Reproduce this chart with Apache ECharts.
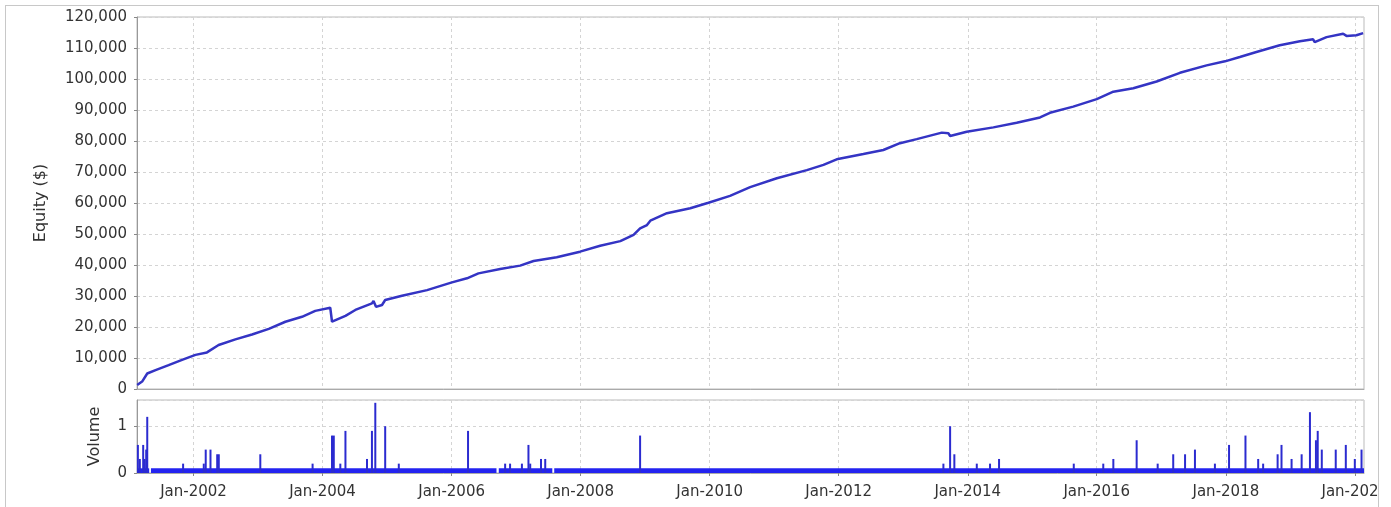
<!DOCTYPE html>
<html>
<head>
<meta charset="utf-8">
<title>Equity and Volume</title>
<script src="https://cdn.jsdelivr.net/npm/echarts@6/dist/echarts.min.js"></script>
<style>
  html, body { margin: 0; padding: 0; background: #fff; }
  body { width: 1391px; height: 507px; position: relative; overflow: hidden; }
  #chart { position: absolute; left: 0; top: 0; width: 1378px; height: 507px; }
  #frame { position: absolute; left: 5px; top: 5px; width: 1372px; height: 540px;
           border: 1px solid #c8c8c8; pointer-events: none; }
</style>
</head>
<body>
<div id="chart"></div>
<div id="frame"></div>
<script>
// equity curve
const equityDates = [
  '2001-02-16', '2001-03-16', '2001-04-14', '2001-05-31', '2001-08-13', '2001-10-28',
  '2002-01-12', '2002-03-18', '2002-05-23', '2002-08-26', '2002-11-28',
  '2003-03-03', '2003-06-05', '2003-09-07', '2003-11-21',
  '2004-02-14', '2004-02-24', '2004-05-10', '2004-07-05', '2004-10-07', '2004-10-16',
  '2004-10-30', '2004-12-03', '2004-12-21',
  '2005-03-26', '2005-08-15',
  '2006-01-03', '2006-03-29', '2006-06-02', '2006-10-03',
  '2007-01-24', '2007-04-10', '2007-08-19', '2007-12-29',
  '2008-04-21', '2008-08-13', '2008-10-27', '2008-12-03',
  '2009-01-11', '2009-01-30', '2009-05-04', '2009-09-13', '2009-12-25',
  '2010-04-26', '2010-08-18',
  '2011-01-16', '2011-07-05', '2011-10-07', '2011-12-21',
  '2012-05-20', '2012-09-10', '2012-12-13',
  '2013-03-18', '2013-08-07', '2013-09-13', '2013-09-23', '2013-12-26',
  '2014-05-26', '2014-10-05',
  '2015-02-14', '2015-04-11', '2015-08-21',
  '2016-01-01', '2016-04-04', '2016-07-26', '2016-12-05',
  '2017-04-16', '2017-09-14', '2017-12-27',
  '2018-03-21', '2018-06-23', '2018-11-02',
  '2019-02-24', '2019-05-10', '2019-05-19', '2019-07-25', '2019-10-27', '2019-11-15',
  '2020-01-10', '2020-02-17'
]
const equityValues = [
  1300, 2400, 5000, 6100, 7700, 9400,
  11000, 11800, 14200, 16000, 17600,
  19400, 21700, 23300, 25200,
  26200, 21700, 23600, 25500, 27600, 28400,
  26500, 27100, 28700,
  30100, 31900,
  34400, 35700, 37300, 38700,
  39800, 41300, 42500, 44300,
  46200, 47700, 49700, 51800,
  52900, 54300, 56700, 58300, 60100,
  62300, 65100,
  68000, 70600, 72300, 74100,
  75800, 77100, 79300,
  80600, 82700, 82500, 81600, 83000,
  84400, 85900,
  87600, 89100, 91100,
  93500, 95900, 97000, 99200,
  102000, 104400, 105700,
  107100, 108700, 110900,
  112200, 112800, 111900, 113500, 114600, 113900,
  114100, 114800
]

// volume spikes
const volumeDates = [
  '2001-02-20', '2001-03-03', '2001-03-22', '2001-03-30', '2001-04-08', '2001-04-14',
  '2001-11-03', '2002-02-28', '2002-03-11', '2002-04-07', '2002-05-15', '2002-05-24',
  '2003-01-14', '2003-11-06',
  '2004-02-24', '2004-03-05', '2004-04-11', '2004-05-10', '2004-09-09', '2004-10-07',
  '2004-10-26', '2004-12-21', '2005-03-08',
  '2006-04-04', '2006-10-31', '2006-11-28',
  '2007-02-03', '2007-03-12', '2007-03-22', '2007-05-22', '2007-06-15',
  '2008-12-03',
  '2013-08-16', '2013-09-23', '2013-10-17',
  '2014-02-21', '2014-05-07', '2014-06-27', '2015-08-24',
  '2016-02-07', '2016-04-04', '2016-08-14', '2016-12-11',
  '2017-03-09', '2017-05-15', '2017-07-10', '2017-10-31',
  '2018-01-19', '2018-04-22', '2018-07-03', '2018-07-31', '2018-10-21', '2018-11-12',
  '2019-01-08', '2019-03-06', '2019-04-22', '2019-05-26', '2019-06-05', '2019-06-28',
  '2019-09-15', '2019-11-11',
  '2020-01-01', '2020-02-08'
]
const volumeValues = [
  0.6, 0.3, 0.6, 0.3, 0.5, 1.2,
  0.2, 0.2, 0.5, 0.5, 0.4, 0.4,
  0.4, 0.2,
  0.8, 0.8, 0.2, 0.9, 0.3, 0.9,
  1.5, 1.0, 0.2,
  0.9, 0.2, 0.2,
  0.2, 0.6, 0.2, 0.3, 0.3,
  0.8,
  0.2, 1.0, 0.4,
  0.2, 0.2, 0.3, 0.2,
  0.2, 0.3, 0.7, 0.2,
  0.4, 0.4, 0.5, 0.2,
  0.6, 0.8, 0.3, 0.2, 0.4, 0.6,
  0.3, 0.4, 1.3, 0.7, 0.9, 0.5,
  0.5, 0.6,
  0.3, 0.5
]

// steady low volume band (start, end)
const baseStarts = ['2001-02-15', '2001-05-05', '2006-09-25', '2007-08-05']
const baseEnds = ['2001-04-25', '2006-09-12', '2007-07-25', '2020-02-22']
const baseLevel = 0.1

const tickDates = ['2002-01-01', '2004-01-01', '2006-01-01', '2008-01-01', '2010-01-01',
  '2012-01-01', '2014-01-01', '2016-01-01', '2018-01-01', '2020-01-01']

const xMin = '2001-02-15'
const xMax = '2020-02-22'

const ts = (d) => Date.parse(d + 'T00:00:00Z')

const font = 'DejaVu Sans'
const textColor = '#333'
const gridLine = { show: true, lineStyle: { color: '#d4d4d4', type: [3, 3], width: 1 } }

function xAxisFor(gridIndex, showLabels) {
  return {
    type: 'value',
    gridIndex,
    min: ts(xMin),
    max: ts(xMax),
    axisLine: { show: true, onZero: false, lineStyle: { color: '#aaa' } },
    axisTick: { show: showLabels, length: 3, customValues: tickDates.map(ts), lineStyle: { color: '#888' } },
    axisLabel: {
      show: showLabels,
      customValues: tickDates.map(ts),
      margin: 12,
      color: textColor,
      fontFamily: font,
      fontSize: 15,
      formatter: (v) => 'Jan-' + new Date(v).getUTCFullYear()
    },
    splitLine: gridLine
  }
}

const chart = echarts.init(document.getElementById('chart'), null, { renderer: 'canvas' })

chart.setOption({
  animation: false,
  backgroundColor: 'transparent',
  grid: [
    { left: 137, top: 17, width: 1227, height: 372, outerBoundsMode: 'none', containLabel: false,
      show: true, borderColor: '#bbb', borderWidth: 1 },
    { left: 137, top: 400, width: 1227, height: 73, outerBoundsMode: 'none', containLabel: false,
      show: true, borderColor: '#bbb', borderWidth: 1 }
  ],
  xAxis: [xAxisFor(0, false), xAxisFor(1, true)],
  yAxis: [
    {
      type: 'value',
      gridIndex: 0,
      min: 0,
      max: 120000,
      interval: 10000,
      name: 'Equity ($)',
      nameLocation: 'middle',
      nameGap: 88,
      nameTextStyle: { color: textColor, fontFamily: font, fontSize: 16 },
      axisLine: { show: true, lineStyle: { color: '#999' } },
      axisTick: { show: true, length: 3, lineStyle: { color: '#888' } },
      axisLabel: {
        margin: 10,
        color: textColor,
        fontFamily: font,
        fontSize: 15,
        formatter: (v) => v.toLocaleString('en-US')
      },
      splitLine: gridLine
    },
    {
      type: 'value',
      gridIndex: 1,
      min: 0,
      max: 1.56,
      interval: 1,
      name: 'Volume',
      nameLocation: 'middle',
      nameGap: 34,
      nameTextStyle: { color: textColor, fontFamily: font, fontSize: 16 },
      axisLine: { show: true, lineStyle: { color: '#999' } },
      axisTick: { show: true, length: 3, lineStyle: { color: '#888' } },
      axisLabel: {
        margin: 10,
        color: textColor,
        fontFamily: font,
        fontSize: 15,
        showMaxLabel: false
      },
      splitLine: gridLine
    }
  ],
  series: [
    {
      name: 'Equity',
      type: 'line',
      xAxisIndex: 0,
      yAxisIndex: 0,
      data: equityDates.map((d, i) => [ts(d), equityValues[i]]),
      showSymbol: false,
      lineStyle: { color: '#3434c4', width: 2.5 },
      itemStyle: { color: '#3434c4' }
    },
    {
      name: 'Base volume',
      type: 'custom',
      xAxisIndex: 1,
      yAxisIndex: 1,
      data: baseStarts.map((s, i) => [ts(s), ts(baseEnds[i]), baseLevel]),
      encode: { x: [0, 1], y: 2 },
      renderItem: (params, api) => {
        const p0 = api.coord([api.value(0), api.value(2)])
        const p1 = api.coord([api.value(1), 0])
        return {
          type: 'rect',
          shape: { x: p0[0], y: p0[1], width: p1[0] - p0[0], height: p1[1] - p0[1] },
          style: { fill: '#2323f0' }
        }
      }
    },
    {
      name: 'Volume',
      type: 'bar',
      xAxisIndex: 1,
      yAxisIndex: 1,
      barWidth: 2,
      data: volumeDates.map((d, i) => [ts(d), volumeValues[i]]),
      itemStyle: { color: '#2b2bd0' }
    }
  ]
})
</script>
</body>
</html>
